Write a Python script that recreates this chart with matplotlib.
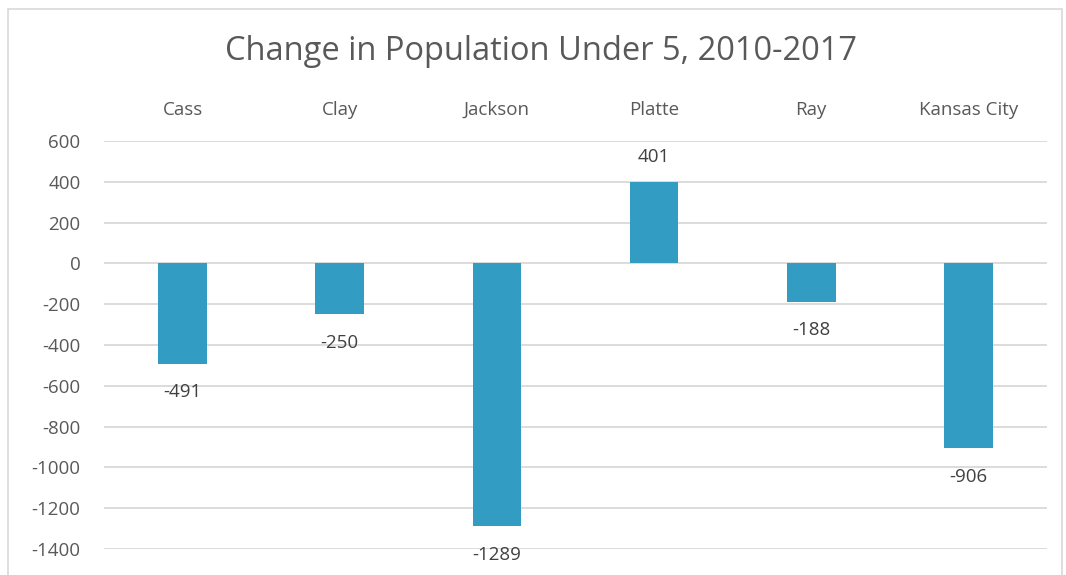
import matplotlib.pyplot as plt
from matplotlib.patches import Rectangle

# Data
counties = ["Cass", "Clay", "Jackson", "Platte", "Ray", "Kansas City"]
change = [-491, -250, -1289, 401, -188, -906]
yticks = [600, 400, 200, 0, -200, -400, -600, -800, -1000, -1200, -1400]

plt.rcParams['font.family'] = ['Open Sans', 'DejaVu Sans']

fig = plt.figure(figsize=(10.66, 5.75), dpi=100)
ax = fig.add_axes([104 / 1066, 1 - 549 / 575, (1047 - 104) / 1066, (549 - 141) / 575])

# outer chart border (cropped at the bottom in the reference)
fig.patches.append(Rectangle((8 / 1066, -0.05), (1062 - 8) / 1066, 1.05 - 9 / 575,
                             transform=fig.transFigure, fill=False,
                             edgecolor='#D9D9D9', linewidth=1.2))

x = range(len(counties))
ax.bar(x, change, width=0.31, color='#339CC2', zorder=3)

for xi, v in zip(x, change):
    if v >= 0:
        ax.annotate(str(v), (xi, v), xytext=(0, 11), textcoords='offset points',
                    ha='center', va='bottom', fontsize=13.5, color='#404040')
    else:
        ax.annotate(str(v), (xi, v), xytext=(0, -14), textcoords='offset points',
                    ha='center', va='top', fontsize=13.5, color='#404040')

ax.set_xlim(-0.5, len(counties) - 0.5)
ax.set_ylim(-1400, 600)
ax.set_yticks(yticks)
ax.set_yticklabels([str(t) for t in yticks])
ax.yaxis.grid(True, color='#D9D9D9', linewidth=1.3, zorder=0)
ax.tick_params(axis='y', length=0, pad=17, labelsize=13.5, labelcolor='#595959')

ax.set_xticks(list(x))
ax.set_xticklabels(counties)
ax.xaxis.tick_top()
ax.tick_params(axis='x', length=0, pad=16, labelsize=13.5, labelcolor='#595959')

for s in ax.spines.values():
    s.set_visible(False)

fig.text(541 / 1066, 1 - 52 / 575, "Change in Population Under 5, 2010-2017",
         ha='center', va='center', fontsize=23.5, color='#595959')

fig.savefig("out.png", dpi=100)
